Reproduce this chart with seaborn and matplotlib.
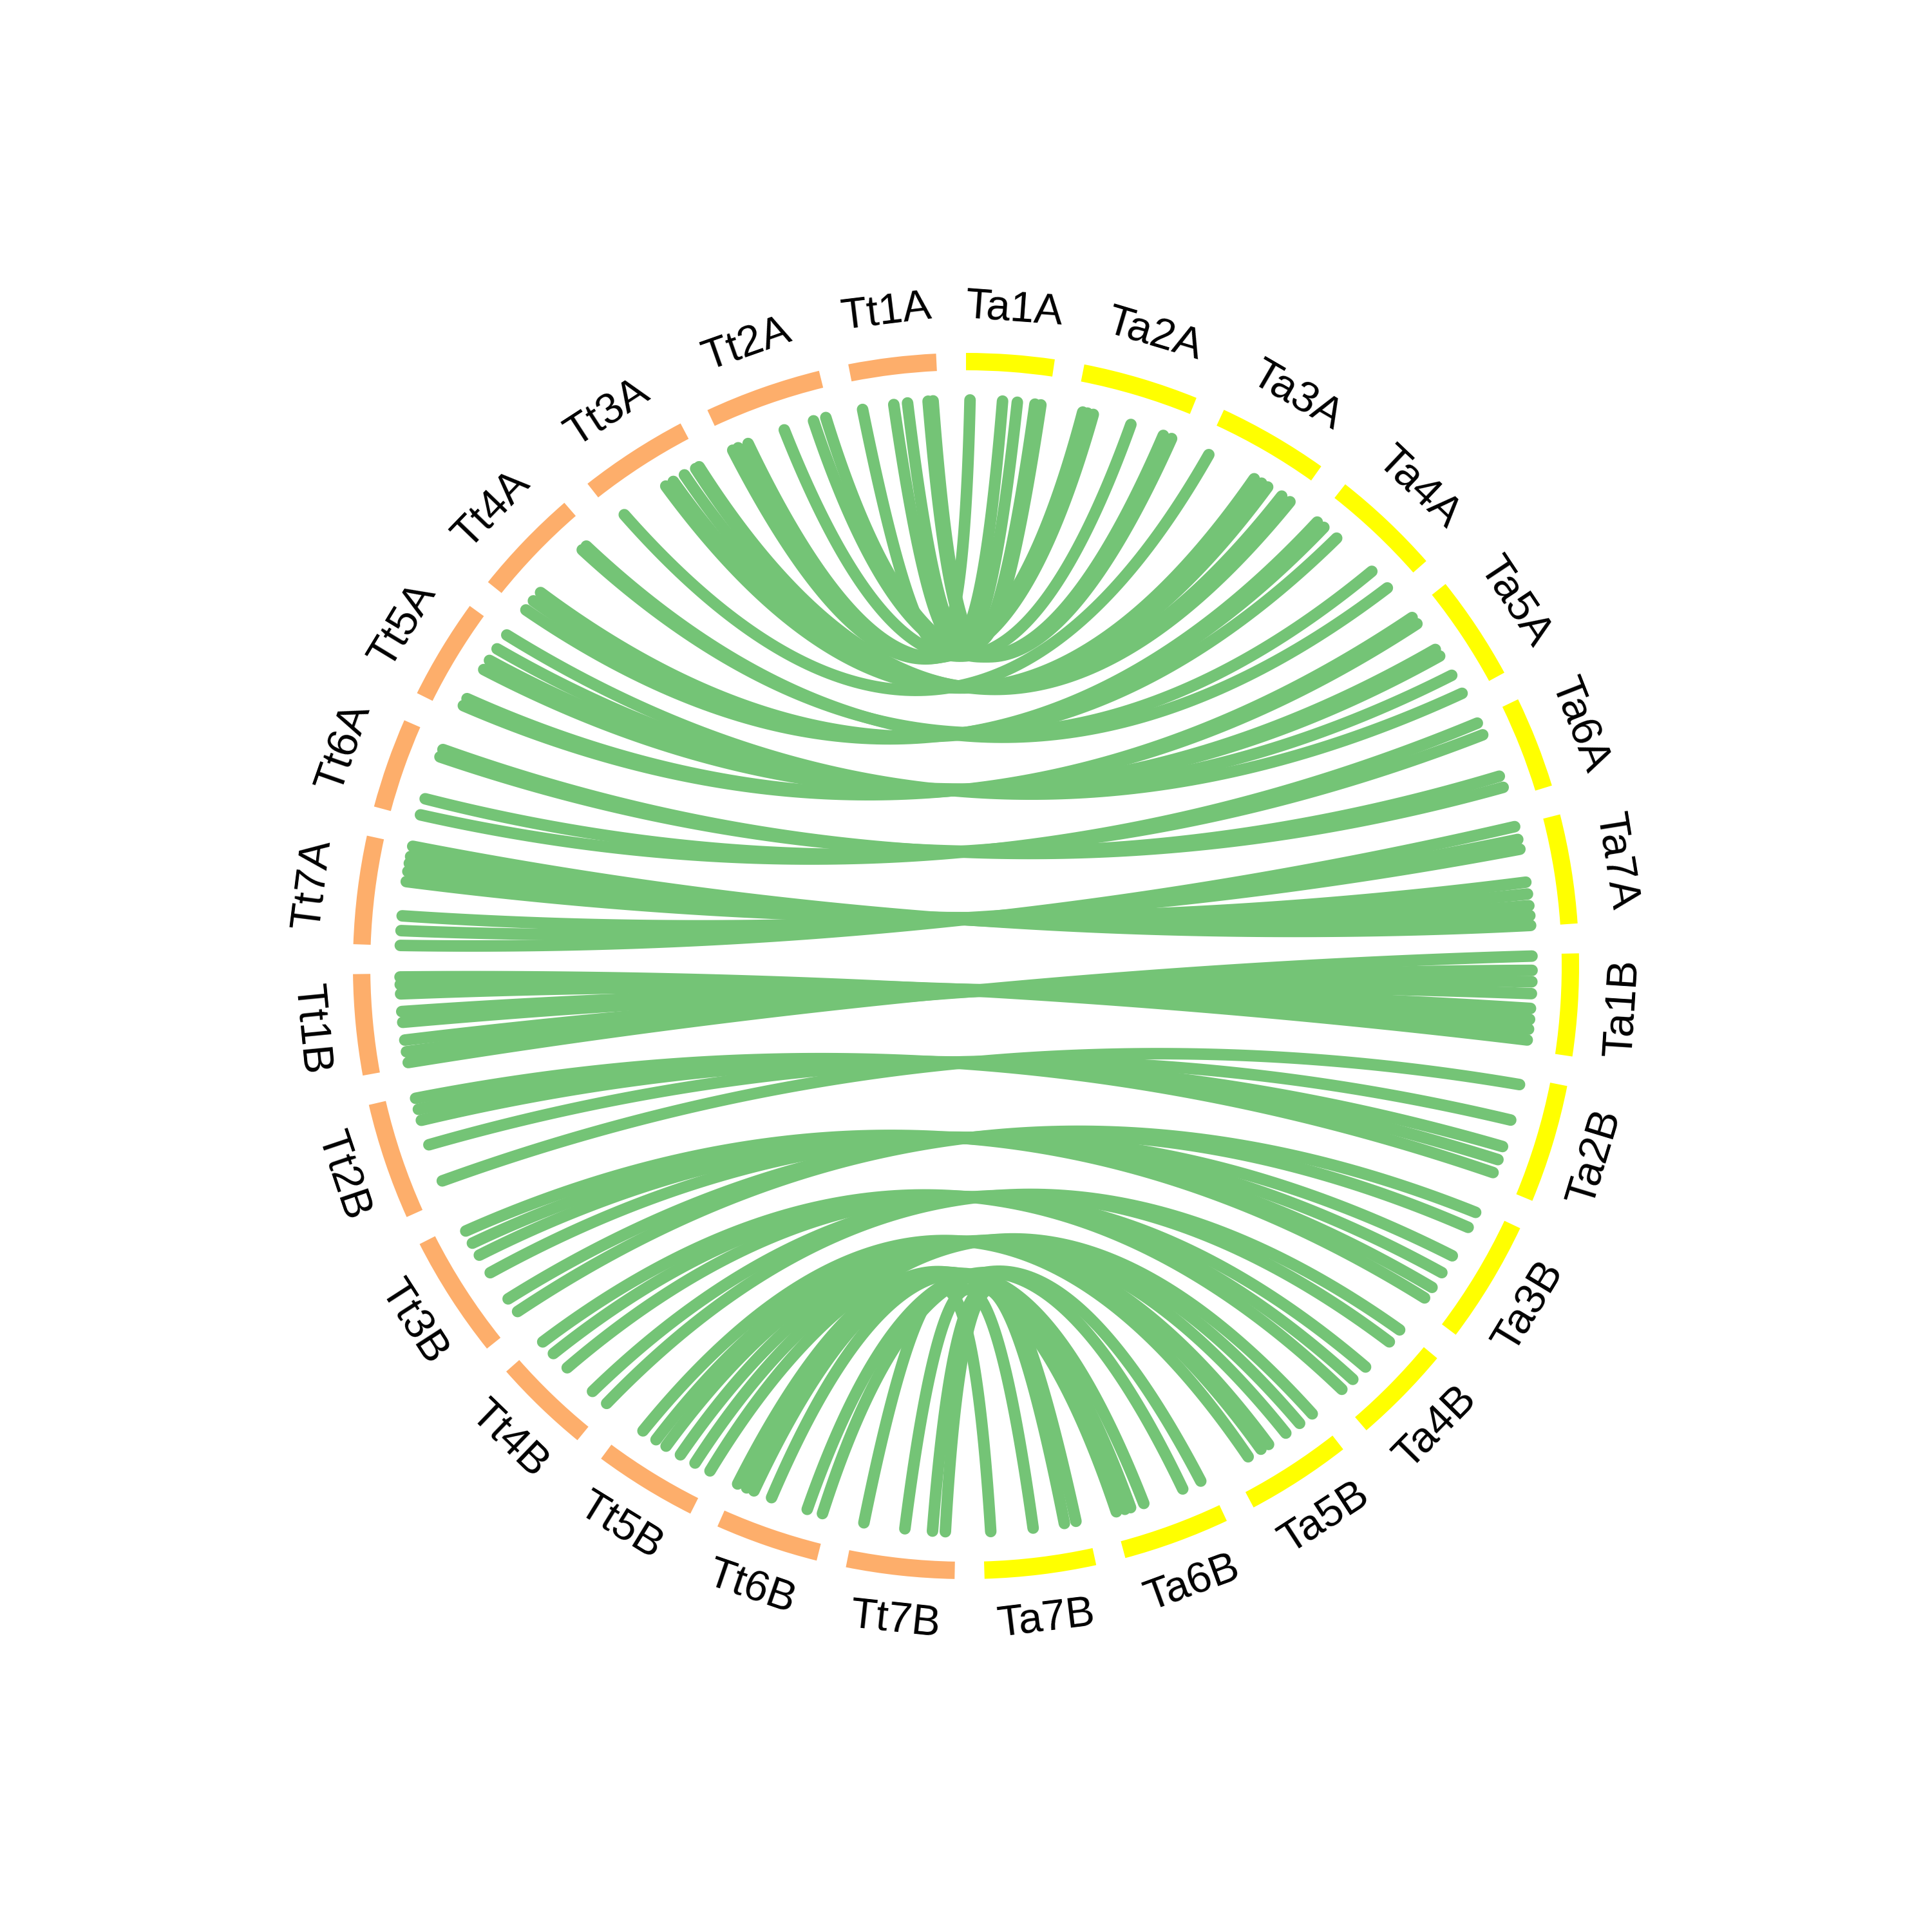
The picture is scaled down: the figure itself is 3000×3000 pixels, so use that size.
import numpy as np
import pandas as pd
import matplotlib
matplotlib.use("Agg")
import matplotlib.pyplot as plt
from matplotlib.patches import Wedge
import seaborn as sns

# chromosome names and lengths (Mb)
ta_names = ["Ta1A", "Ta2A", "Ta3A", "Ta4A", "Ta5A", "Ta6A", "Ta7A",
            "Ta1B", "Ta2B", "Ta3B", "Ta4B", "Ta5B", "Ta6B", "Ta7B"]
tt_names = ["Tt1A", "Tt2A", "Tt3A", "Tt4A", "Tt5A", "Tt6A", "Tt7A",
            "Tt1B", "Tt2B", "Tt3B", "Tt4B", "Tt5B", "Tt6B", "Tt7B"]
ta_len = [594, 781, 751, 745, 710, 618, 737, 690, 801, 831, 674, 713, 721, 751]
tt_len = [590, 790, 740, 735, 680, 610, 730, 680, 790, 830, 660, 700, 700, 730]

# syntenic links: position on Ta chromosome / position on Tt chromosome (Mb)
ta_pos = [
    [29, 264, 371, 499, 542],
    [55, 90, 133, 414, 661, 725],
    [37, 408, 470, 522, 643, 715],
    [10, 71, 192, 541, 705],
    [39, 96, 324, 381, 545, 695],
    [27, 120, 442, 527],
    [5, 100, 172, 414, 500, 585, 657, 728],
    [13, 116, 198, 284, 391, 470, 541, 620],
    [57, 321, 521, 621, 721],
    [34, 155, 390, 533, 661, 754],
    [16, 130, 380, 508, 615],
    [19, 133, 255, 404, 469, 576],
    [48, 190, 490, 590, 633, 697],
    [76, 161, 389, 696],
]
tt_pos = [
    [39, 267, 367, 516, 552],
    [44, 87, 165, 444, 665, 757],
    [71, 435, 499, 592, 685, 713],
    [15, 100, 179, 610, 650],
    [68, 125, 367, 445, 545, 667],
    [29, 150, 471, 528],
    [3, 110, 217, 466, 540, 600, 650, 725],
    [34, 113, 198, 327, 405, 533, 600, 655],
    [133, 411, 596, 678, 760],
    [71, 185, 414, 563, 663, 763],
    [5, 139, 389, 532, 646],
    [12, 134, 255, 376, 462, 576],
    [42, 156, 427, 563, 620, 691],
    [73, 166, 366, 665],
]

ta_color = "#FFFF00"
tt_color = "#FDAE6B"
link_color = "#74C476"

sns.set_theme(style="white")
plt.rcParams["font.family"] = ["Liberation Sans Narrow", "Liberation Sans", "DejaVu Sans"]

# layout: clockwise from top, Ta1A..Ta7B then Tt7B..Tt1A
gap = 2.8
scale = (360 - gap * 28) / (sum(ta_len) + sum(tt_len))
start = {}
length = {}
a = 0.0
for name, L in zip(ta_names, ta_len):
    start[name] = a
    length[name] = L
    a += L * scale + gap
for name, L in zip(tt_names[::-1], tt_len[::-1]):
    start[name] = a
    length[name] = L
    a += L * scale + gap


def polar(theta, r):
    t = np.deg2rad(theta)
    return r * np.sin(t), r * np.cos(t)


R_RING = 952
RING_W = 27
R_LINK = 879
R_LABEL = 1022

# build link curves (quadratic bezier pulled toward the centre)
rows = []
t = np.linspace(0, 1, 120)
lid = 0
for i in range(14):
    for pa, pt in zip(ta_pos[i], tt_pos[i]):
        p0 = np.array(polar(start[ta_names[i]] + pa * scale, R_LINK))
        p2 = np.array(polar(start[tt_names[i]] + pt * scale, R_LINK))
        c = 0.15 * (p0 + p2) / 2
        pts = ((1 - t) ** 2)[:, None] * p0 + (2 * (1 - t) * t)[:, None] * c + (t ** 2)[:, None] * p2
        for x, y in pts:
            rows.append((lid, x, y))
        lid += 1
links = pd.DataFrame(rows, columns=["link", "x", "y"])

fig = plt.figure(figsize=(10, 10), dpi=300)
ax = fig.add_axes([0, 0, 1, 1])

sns.lineplot(data=links, x="x", y="y", units="link", estimator=None, sort=False,
             color=link_color, linewidth=4.3, solid_capstyle="round", legend=False, ax=ax)

for name in ta_names + tt_names:
    th0 = start[name]
    th1 = th0 + length[name] * scale
    col = ta_color if name.startswith("Ta") else tt_color
    ax.add_patch(Wedge((0, 0), R_RING, 90 - th1, 90 - th0, width=RING_W,
                       facecolor=col, edgecolor="none"))
    mid = (th0 + th1) / 2
    x, y = polar(mid, R_LABEL)
    alpha = (90 - mid) % 360
    rot = alpha - 90 if alpha <= 180 else alpha + 90
    ax.text(x, y, name, rotation=rot, rotation_mode="anchor", ha="center", va="center",
            fontsize=16, color="black")

ax.set_xlim(-1500, 1500)
ax.set_ylim(-1500, 1500)
ax.set_aspect("equal")
ax.axis("off")

fig.savefig("out.png", dpi=300, facecolor="white")
